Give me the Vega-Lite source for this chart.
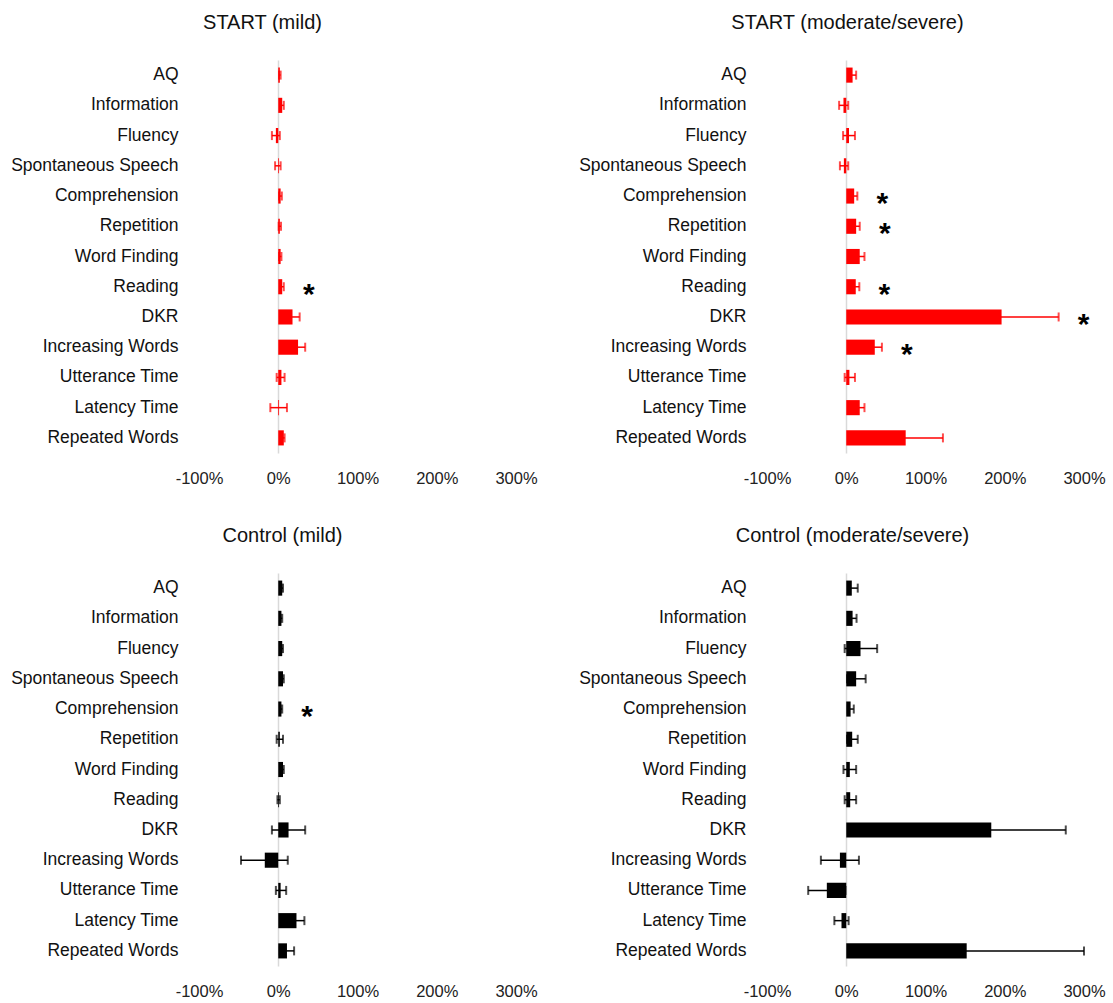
{
  "$schema": "https://vega.github.io/schema/vega-lite/v6.json",
  "autosize": {"type": "pad"},
  "padding": {"left": 10, "top": 13, "right": 5, "bottom": 5},
  "background": "white",
  "config": {
    "font": "Liberation Sans",
    "view": {"stroke": null},
    "title": {"fontSize": 20, "fontWeight": "normal", "color": "#111111", "anchor": "middle", "frame": "group", "offset": 27},
    "axisY": {"title": null, "domain": false, "ticks": false, "grid": false, "labelPadding": 21, "labelFontSize": 17.5, "labelColor": "#111111", "labelLimit": 400},
    "axisX": {"title": null, "domain": false, "ticks": false, "grid": true, "gridColor": "#d9d9d9", "gridWidth": 1.5, "labelPadding": 17, "labelFontSize": 16.5, "labelColor": "#222222", "labelFlush": false, "labelOverlap": false},
    "text": {"font": "Liberation Sans"}
  },
  "data": {
    "values": [
      {"panel": "S_m", "measure": "AQ", "value": 2, "lo": 1, "hi": 3, "sig": false},
      {"panel": "S_m", "measure": "Information", "value": 5, "lo": 3, "hi": 7, "sig": false},
      {"panel": "S_m", "measure": "Fluency", "value": -3, "lo": -8, "hi": 2, "sig": false},
      {"panel": "S_m", "measure": "Spontaneous Speech", "value": 1, "lo": -4, "hi": 3, "sig": false},
      {"panel": "S_m", "measure": "Comprehension", "value": 3, "lo": 1, "hi": 4.5, "sig": false},
      {"panel": "S_m", "measure": "Repetition", "value": 2, "lo": 0.5, "hi": 3.5, "sig": false},
      {"panel": "S_m", "measure": "Word Finding", "value": 3, "lo": 1, "hi": 4, "sig": false},
      {"panel": "S_m", "measure": "Reading", "value": 5, "lo": 3, "hi": 7, "sig": true},
      {"panel": "S_m", "measure": "DKR", "value": 18, "lo": 9, "hi": 27, "sig": false},
      {"panel": "S_m", "measure": "Increasing Words", "value": 25, "lo": 16, "hi": 34, "sig": false},
      {"panel": "S_m", "measure": "Utterance Time", "value": 4, "lo": -2, "hi": 8, "sig": false},
      {"panel": "S_m", "measure": "Latency Time", "value": 1, "lo": -10, "hi": 11, "sig": false},
      {"panel": "S_m", "measure": "Repeated Words", "value": 7, "lo": 5, "hi": 8, "sig": false},

      {"panel": "S_ms", "measure": "AQ", "value": 8, "lo": 4, "hi": 12.5, "sig": false},
      {"panel": "S_ms", "measure": "Information", "value": -3.5, "lo": -9, "hi": 2.5, "sig": false},
      {"panel": "S_ms", "measure": "Fluency", "value": 3.5, "lo": -4, "hi": 11, "sig": false},
      {"panel": "S_ms", "measure": "Spontaneous Speech", "value": -3, "lo": -8, "hi": 2.5, "sig": false},
      {"panel": "S_ms", "measure": "Comprehension", "value": 10, "lo": 6, "hi": 14, "sig": true},
      {"panel": "S_ms", "measure": "Repetition", "value": 12.5, "lo": 8, "hi": 17, "sig": true},
      {"panel": "S_ms", "measure": "Word Finding", "value": 17, "lo": 11, "hi": 23, "sig": false},
      {"panel": "S_ms", "measure": "Reading", "value": 12, "lo": 7.5, "hi": 16.5, "sig": true},
      {"panel": "S_ms", "measure": "DKR", "value": 196, "lo": 124, "hi": 268, "sig": true},
      {"panel": "S_ms", "measure": "Increasing Words", "value": 36, "lo": 27, "hi": 45, "sig": true},
      {"panel": "S_ms", "measure": "Utterance Time", "value": 4, "lo": -2, "hi": 11, "sig": false},
      {"panel": "S_ms", "measure": "Latency Time", "value": 17, "lo": 11, "hi": 23, "sig": false},
      {"panel": "S_ms", "measure": "Repeated Words", "value": 75, "lo": 28, "hi": 122, "sig": false},

      {"panel": "C_m", "measure": "AQ", "value": 5, "lo": 4, "hi": 6, "sig": false},
      {"panel": "C_m", "measure": "Information", "value": 4, "lo": 3, "hi": 5, "sig": false},
      {"panel": "C_m", "measure": "Fluency", "value": 5, "lo": 4, "hi": 6, "sig": false},
      {"panel": "C_m", "measure": "Spontaneous Speech", "value": 6, "lo": 5, "hi": 7, "sig": false},
      {"panel": "C_m", "measure": "Comprehension", "value": 4, "lo": 3, "hi": 5, "sig": true},
      {"panel": "C_m", "measure": "Repetition", "value": 2, "lo": -2, "hi": 6, "sig": false},
      {"panel": "C_m", "measure": "Word Finding", "value": 6, "lo": 5, "hi": 7, "sig": false},
      {"panel": "C_m", "measure": "Reading", "value": 1, "lo": -1, "hi": 2, "sig": false},
      {"panel": "C_m", "measure": "DKR", "value": 13, "lo": -8, "hi": 34, "sig": false},
      {"panel": "C_m", "measure": "Increasing Words", "value": -17, "lo": -47, "hi": 12, "sig": false},
      {"panel": "C_m", "measure": "Utterance Time", "value": 3, "lo": -3, "hi": 10, "sig": false},
      {"panel": "C_m", "measure": "Latency Time", "value": 23, "lo": 13, "hi": 33, "sig": false},
      {"panel": "C_m", "measure": "Repeated Words", "value": 11, "lo": 2, "hi": 20, "sig": false},

      {"panel": "C_ms", "measure": "AQ", "value": 7, "lo": 3, "hi": 14.5, "sig": false},
      {"panel": "C_ms", "measure": "Information", "value": 8, "lo": 4, "hi": 13, "sig": false},
      {"panel": "C_ms", "measure": "Fluency", "value": 18, "lo": -2, "hi": 39, "sig": false},
      {"panel": "C_ms", "measure": "Spontaneous Speech", "value": 12.5, "lo": 1, "hi": 24.5, "sig": false},
      {"panel": "C_ms", "measure": "Comprehension", "value": 5.5, "lo": 2, "hi": 9.5, "sig": false},
      {"panel": "C_ms", "measure": "Repetition", "value": 7.5, "lo": 1, "hi": 14.5, "sig": false},
      {"panel": "C_ms", "measure": "Word Finding", "value": 4.5, "lo": -3.5, "hi": 12.5, "sig": false},
      {"panel": "C_ms", "measure": "Reading", "value": 5, "lo": -2, "hi": 12.5, "sig": false},
      {"panel": "C_ms", "measure": "DKR", "value": 183, "lo": 89, "hi": 277, "sig": false},
      {"panel": "C_ms", "measure": "Increasing Words", "value": -8, "lo": -32, "hi": 16, "sig": false},
      {"panel": "C_ms", "measure": "Utterance Time", "value": -24.5, "lo": -48, "hi": -1, "sig": false},
      {"panel": "C_ms", "measure": "Latency Time", "value": -6, "lo": -15, "hi": 3, "sig": false},
      {"panel": "C_ms", "measure": "Repeated Words", "value": 152, "lo": 4, "hi": 300, "sig": false}
    ]
  },
  "columns": 2,
  "bounds": "flush",
  "spacing": {"row": 120, "column": 251},
  "concat": [
    {
      "title": {"text": "START (mild)", "dx": -95},
      "width": 317, "height": 393,
      "transform": [{"filter": "datum.panel === 'S_m'"}],
      "encoding": {
        "y": {"field": "measure", "type": "nominal", "title": null, "sort": ["AQ", "Information", "Fluency", "Spontaneous Speech", "Comprehension", "Repetition", "Word Finding", "Reading", "DKR", "Increasing Words", "Utterance Time", "Latency Time", "Repeated Words"], "scale": {"paddingInner": 0.5, "paddingOuter": 0.25}}
      },
      "layer": [
        {
          "mark": {"type": "bar", "color": "#ff0000"},
          "encoding": {
            "x": {"field": "value", "type": "quantitative", "title": null, "scale": {"domain": [-100, 300], "nice": false, "zero": false},
              "axis": {"values": [-100, 0, 100, 200, 300], "labelExpr": "datum.value + '%'", "gridOpacity": {"condition": {"test": "datum.value === 0", "value": 1}, "value": 0}}}
          }
        },
        {
          "mark": {"type": "errorbar", "color": "#ff0000", "thickness": 1.5, "ticks": {"size": 9, "thickness": 2}},
          "encoding": {
            "x": {"field": "lo", "type": "quantitative", "title": null, "scale": {"domain": [-100, 300], "nice": false, "zero": false},
              "axis": {"values": [-100, 0, 100, 200, 300], "labelExpr": "datum.value + '%'", "gridOpacity": {"condition": {"test": "datum.value === 0", "value": 1}, "value": 0}}},
            "x2": {"field": "hi"}
          }
        },
        {
          "transform": [{"filter": "datum.sig"}],
          "mark": {"type": "text", "text": "*", "fontSize": 30, "fontWeight": "bold", "color": "#000000", "align": "center", "baseline": "middle", "dx": 25, "dy": 8},
          "encoding": {
            "x": {"field": "hi", "type": "quantitative", "title": null, "scale": {"domain": [-100, 300], "nice": false, "zero": false},
              "axis": {"values": [-100, 0, 100, 200, 300], "labelExpr": "datum.value + '%'", "gridOpacity": {"condition": {"test": "datum.value === 0", "value": 1}, "value": 0}}}
          }
        }
      ]
    },
    {
      "title": {"text": "START (moderate/severe)", "dx": -78},
      "width": 317, "height": 393,
      "transform": [{"filter": "datum.panel === 'S_ms'"}],
      "encoding": {
        "y": {"field": "measure", "type": "nominal", "title": null, "sort": ["AQ", "Information", "Fluency", "Spontaneous Speech", "Comprehension", "Repetition", "Word Finding", "Reading", "DKR", "Increasing Words", "Utterance Time", "Latency Time", "Repeated Words"], "scale": {"paddingInner": 0.5, "paddingOuter": 0.25}}
      },
      "layer": [
        {
          "mark": {"type": "bar", "color": "#ff0000"},
          "encoding": {
            "x": {"field": "value", "type": "quantitative", "title": null, "scale": {"domain": [-100, 300], "nice": false, "zero": false},
              "axis": {"values": [-100, 0, 100, 200, 300], "labelExpr": "datum.value + '%'", "gridOpacity": {"condition": {"test": "datum.value === 0", "value": 1}, "value": 0}}}
          }
        },
        {
          "mark": {"type": "errorbar", "color": "#ff0000", "thickness": 1.5, "ticks": {"size": 9, "thickness": 2}},
          "encoding": {
            "x": {"field": "lo", "type": "quantitative", "title": null, "scale": {"domain": [-100, 300], "nice": false, "zero": false},
              "axis": {"values": [-100, 0, 100, 200, 300], "labelExpr": "datum.value + '%'", "gridOpacity": {"condition": {"test": "datum.value === 0", "value": 1}, "value": 0}}},
            "x2": {"field": "hi"}
          }
        },
        {
          "transform": [{"filter": "datum.sig"}],
          "mark": {"type": "text", "text": "*", "fontSize": 30, "fontWeight": "bold", "color": "#000000", "align": "center", "baseline": "middle", "dx": 25, "dy": 8},
          "encoding": {
            "x": {"field": "hi", "type": "quantitative", "title": null, "scale": {"domain": [-100, 300], "nice": false, "zero": false},
              "axis": {"values": [-100, 0, 100, 200, 300], "labelExpr": "datum.value + '%'", "gridOpacity": {"condition": {"test": "datum.value === 0", "value": 1}, "value": 0}}}
          }
        }
      ]
    },
    {
      "title": {"text": "Control (mild)", "dx": -75},
      "width": 317, "height": 393,
      "transform": [{"filter": "datum.panel === 'C_m'"}],
      "encoding": {
        "y": {"field": "measure", "type": "nominal", "title": null, "sort": ["AQ", "Information", "Fluency", "Spontaneous Speech", "Comprehension", "Repetition", "Word Finding", "Reading", "DKR", "Increasing Words", "Utterance Time", "Latency Time", "Repeated Words"], "scale": {"paddingInner": 0.5, "paddingOuter": 0.25}}
      },
      "layer": [
        {
          "mark": {"type": "bar", "color": "#000000"},
          "encoding": {
            "x": {"field": "value", "type": "quantitative", "title": null, "scale": {"domain": [-100, 300], "nice": false, "zero": false},
              "axis": {"values": [-100, 0, 100, 200, 300], "labelExpr": "datum.value + '%'", "gridOpacity": {"condition": {"test": "datum.value === 0", "value": 1}, "value": 0}}}
          }
        },
        {
          "mark": {"type": "errorbar", "color": "#000000", "thickness": 1.5, "ticks": {"size": 9, "thickness": 2}},
          "encoding": {
            "x": {"field": "lo", "type": "quantitative", "title": null, "scale": {"domain": [-100, 300], "nice": false, "zero": false},
              "axis": {"values": [-100, 0, 100, 200, 300], "labelExpr": "datum.value + '%'", "gridOpacity": {"condition": {"test": "datum.value === 0", "value": 1}, "value": 0}}},
            "x2": {"field": "hi"}
          }
        },
        {
          "transform": [{"filter": "datum.sig"}],
          "mark": {"type": "text", "text": "*", "fontSize": 30, "fontWeight": "bold", "color": "#000000", "align": "center", "baseline": "middle", "dx": 25, "dy": 8},
          "encoding": {
            "x": {"field": "hi", "type": "quantitative", "title": null, "scale": {"domain": [-100, 300], "nice": false, "zero": false},
              "axis": {"values": [-100, 0, 100, 200, 300], "labelExpr": "datum.value + '%'", "gridOpacity": {"condition": {"test": "datum.value === 0", "value": 1}, "value": 0}}}
          }
        }
      ]
    },
    {
      "title": {"text": "Control (moderate/severe)", "dx": -73},
      "width": 317, "height": 393,
      "transform": [{"filter": "datum.panel === 'C_ms'"}],
      "encoding": {
        "y": {"field": "measure", "type": "nominal", "title": null, "sort": ["AQ", "Information", "Fluency", "Spontaneous Speech", "Comprehension", "Repetition", "Word Finding", "Reading", "DKR", "Increasing Words", "Utterance Time", "Latency Time", "Repeated Words"], "scale": {"paddingInner": 0.5, "paddingOuter": 0.25}}
      },
      "layer": [
        {
          "mark": {"type": "bar", "color": "#000000"},
          "encoding": {
            "x": {"field": "value", "type": "quantitative", "title": null, "scale": {"domain": [-100, 300], "nice": false, "zero": false},
              "axis": {"values": [-100, 0, 100, 200, 300], "labelExpr": "datum.value + '%'", "gridOpacity": {"condition": {"test": "datum.value === 0", "value": 1}, "value": 0}}}
          }
        },
        {
          "mark": {"type": "errorbar", "color": "#000000", "thickness": 1.5, "ticks": {"size": 9, "thickness": 2}},
          "encoding": {
            "x": {"field": "lo", "type": "quantitative", "title": null, "scale": {"domain": [-100, 300], "nice": false, "zero": false},
              "axis": {"values": [-100, 0, 100, 200, 300], "labelExpr": "datum.value + '%'", "gridOpacity": {"condition": {"test": "datum.value === 0", "value": 1}, "value": 0}}},
            "x2": {"field": "hi"}
          }
        },
        {
          "transform": [{"filter": "datum.sig"}],
          "mark": {"type": "text", "text": "*", "fontSize": 30, "fontWeight": "bold", "color": "#000000", "align": "center", "baseline": "middle", "dx": 25, "dy": 8},
          "encoding": {
            "x": {"field": "hi", "type": "quantitative", "title": null, "scale": {"domain": [-100, 300], "nice": false, "zero": false},
              "axis": {"values": [-100, 0, 100, 200, 300], "labelExpr": "datum.value + '%'", "gridOpacity": {"condition": {"test": "datum.value === 0", "value": 1}, "value": 0}}}
          }
        }
      ]
    }
  ]
}
